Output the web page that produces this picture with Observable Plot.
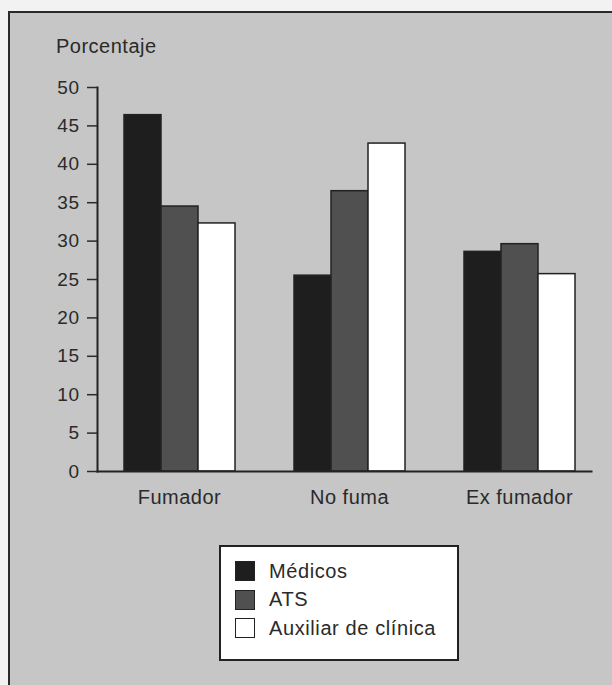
<!DOCTYPE html>
<html>
<head>
<meta charset="utf-8">
<script src="https://cdn.jsdelivr.net/npm/d3@7"></script>
<script src="https://cdn.jsdelivr.net/npm/@observablehq/plot@0.6"></script>
<style>
  html, body { margin: 0; padding: 0; background: #f2f2f2; }
  #page { position: relative; width: 612px; height: 685px; overflow: hidden; font-family: "Liberation Sans", Arial, sans-serif; color: #2a2a2a; }
  #panel { position: absolute; left: 8px; top: 11px; width: 620px; height: 690px; background: #c6c6c6; border-left: 2px solid #2a2a2a; border-top: 2px solid #2a2a2a; }
  #chart { position: absolute; left: 0; top: 0; }
  #ylabel { position: absolute; left: 56px; top: 35px; font-size: 20px; letter-spacing: 0.5px; }
  #legend { position: absolute; left: 219px; top: 545px; width: 236px; height: 112px; background: #fff; border: 2px solid #222; }
  .row { position: absolute; left: 14px; height: 20px; display: flex; align-items: center; font-size: 20px; letter-spacing: 0.6px; }
  .sw { width: 20px; height: 20px; box-sizing: border-box; border: 1.5px solid #222; margin-right: 14px; }
</style>
</head>
<body>
<div id="page">
  <div id="panel"></div>
  <div id="ylabel">Porcentaje</div>
  <div id="chart"></div>
  <div id="legend"></div>
</div>
<script>
const categories = ["Fumador", "No fuma", "Ex fumador"];
const series = ["Médicos", "ATS", "Auxiliar de clínica"];
const medicos = [46.4, 25.5, 28.6];
const ats = [34.5, 36.5, 29.6];
const auxiliar = [32.3, 42.7, 25.7];
const yTicks = [0, 5, 10, 15, 20, 25, 30, 35, 40, 45, 50];
const colors = ["#1e1e1e", "#505050", "#ffffff"];

const values = [medicos, ats, auxiliar];
const data = [];
categories.forEach((c, i) => {
  series.forEach((s, j) => data.push({category: c, series: s, value: values[j][i]}));
});

const chart = Plot.plot({
  width: 612,
  height: 520,
  marginTop: 87,
  marginBottom: 49,
  marginLeft: 97,
  marginRight: 20,
  style: {background: "transparent", fontFamily: "'Liberation Sans', Arial, sans-serif", color: "#2a2a2a", letterSpacing: "0.5px", overflow: "visible"},
  fx: {domain: categories, range: [97, 602], paddingInner: 0.0346, paddingOuter: 0, label: null},
  x: {domain: series, padding: 0, insetLeft: 25.7, insetRight: 25.7, axis: null},
  y: {domain: [0, 50], label: null},
  color: {domain: series, range: colors},
  marks: [
    Plot.barY(data, {fx: "category", x: "series", y: "value", fill: "series", stroke: "#222", strokeWidth: 1.5}),
    Plot.frame({anchor: "bottom", facet: "super", stroke: "#222", strokeWidth: 2, insetRight: 10}),
    Plot.frame({anchor: "left", facet: "super", stroke: "#222", strokeWidth: 2}),
    Plot.axisY({ticks: yTicks, tickSize: 10, tickPadding: 8, fontSize: 19, strokeWidth: 1.5, label: null}),
    Plot.axisFx({anchor: "bottom", tickSize: 0, tickPadding: 18, fontSize: 20, label: null})
  ]
});
document.getElementById("chart").appendChild(chart);

const legend = document.getElementById("legend");
series.forEach((s, j) => {
  const row = document.createElement("div");
  row.className = "row";
  row.style.top = (14 + j * 28.5) + "px";
  const sw = document.createElement("div");
  sw.className = "sw";
  sw.style.background = colors[j];
  row.appendChild(sw);
  row.appendChild(document.createTextNode(s));
  legend.appendChild(row);
});
</script>
</body>
</html>
